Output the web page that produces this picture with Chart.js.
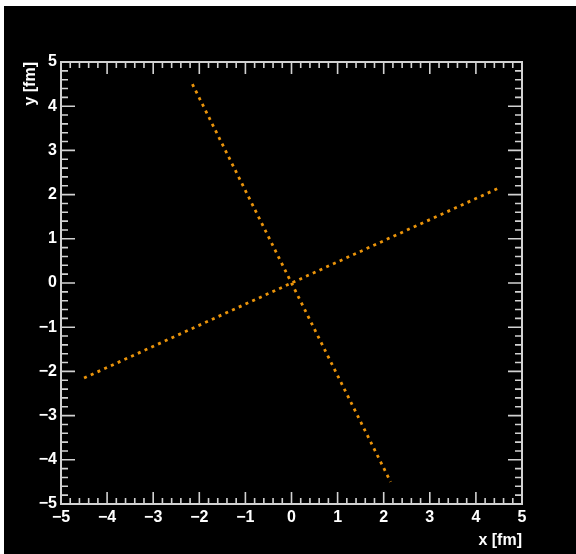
<!DOCTYPE html>
<html>
<head>
<meta charset="utf-8">
<script src="https://cdn.jsdelivr.net/npm/chart.js@4/dist/chart.umd.min.js"></script>
<style>
  body { margin: 0; background: #fff; }
  #wrap { position: absolute; left: 4px; top: 6px; width: 572px; height: 548px; background: #000; }
</style>
</head>
<body>
<div id="wrap"><canvas id="xyPlot" width="572" height="548"></canvas></div>
<script>
// two dotted tracks through the origin
const trackA_x = [-4.5, 4.5];
const trackA_y = [-2.15, 2.15];
const trackB_x = [-2.15, 2.15];
const trackB_y = [4.5, -4.5];

const axisMin = -5;
const axisMax = 5;
const majorStep = 1;
const minorPerMajor = 5;

const toPoints = (xs, ys) => xs.map((x, i) => ({ x: x, y: ys[i] }));
const fmtTick = (v) => (v < 0 ? "\u2212" + Math.abs(v) : String(v));

const axisColor = "#d2d2d2";
const trackColor = "#eb940a";

// frame plus inward major/minor ticks on all four sides
const frameTicks = {
    id: "frameTicks",
    afterDraw(chart) {
        const ctx = chart.ctx;
        const a = chart.chartArea;
        const sx = chart.scales.x;
        const sy = chart.scales.y;
        ctx.save();
        ctx.strokeStyle = axisColor;
        ctx.lineWidth = 1.6;
        const n = (axisMax - axisMin) * minorPerMajor;
        ctx.beginPath();
        for (let i = 0; i <= n; i++) {
            const v = axisMin + i / minorPerMajor;
            const major = i % minorPerMajor === 0;
            const px = sx.getPixelForValue(v);
            const py = sy.getPixelForValue(v);
            const hx = major ? 12 : 6;
            const hy = major ? 14 : 7;
            ctx.moveTo(px, a.bottom); ctx.lineTo(px, a.bottom - hx);
            ctx.moveTo(px, a.top); ctx.lineTo(px, a.top + hx);
            ctx.moveTo(a.left, py); ctx.lineTo(a.left + hy, py);
            ctx.moveTo(a.right, py); ctx.lineTo(a.right - hy, py);
        }
        ctx.stroke();
        ctx.lineWidth = 2;
        ctx.strokeRect(a.left, a.top, a.right - a.left, a.bottom - a.top);
        ctx.restore();
    },
};

const labelFont = { family: "'Liberation Sans Narrow', 'Liberation Sans', Arial, sans-serif", size: 16, weight: "bold" };

new Chart(document.getElementById("xyPlot"), {
    type: "scatter",
    data: {
        datasets: [
            { data: toPoints(trackA_x, trackA_y) },
            { data: toPoints(trackB_x, trackB_y) },
        ].map((d) => Object.assign(d, {
            showLine: true,
            borderColor: trackColor,
            borderWidth: 2.8,
            borderDash: [3, 4.4],
            pointRadius: 0,
            fill: false,
        })),
    },
    options: {
        responsive: false,
        animation: false,
        layout: { padding: { top: 56, right: 54, left: 0, bottom: 0 } },
        plugins: { legend: { display: false }, tooltip: { enabled: false } },
        scales: {
            x: {
                type: "linear",
                min: axisMin,
                max: axisMax,
                afterFit: (s) => { s.height = 50; },
                grid: { display: false, drawTicks: false },
                border: { display: false },
                ticks: {
                    stepSize: majorStep,
                    padding: 4,
                    color: "#ffffff",
                    font: labelFont,
                    maxRotation: 0,
                    callback: fmtTick,
                },
                title: {
                    display: true,
                    text: "x [fm]",
                    align: "end",
                    color: "#ffffff",
                    font: labelFont,
                    padding: { top: 9 },
                },
            },
            y: {
                type: "linear",
                min: axisMin,
                max: axisMax,
                afterFit: (s) => { s.width = 57; },
                grid: { display: false, drawTicks: false },
                border: { display: false },
                ticks: {
                    stepSize: majorStep,
                    padding: 4,
                    color: "#ffffff",
                    font: labelFont,
                    callback: fmtTick,
                },
                title: {
                    display: true,
                    text: "y [fm]",
                    align: "end",
                    color: "#ffffff",
                    font: labelFont,
                    padding: { top: 17 },
                },
            },
        },
    },
    plugins: [frameTicks],
});
</script>
</body>
</html>
